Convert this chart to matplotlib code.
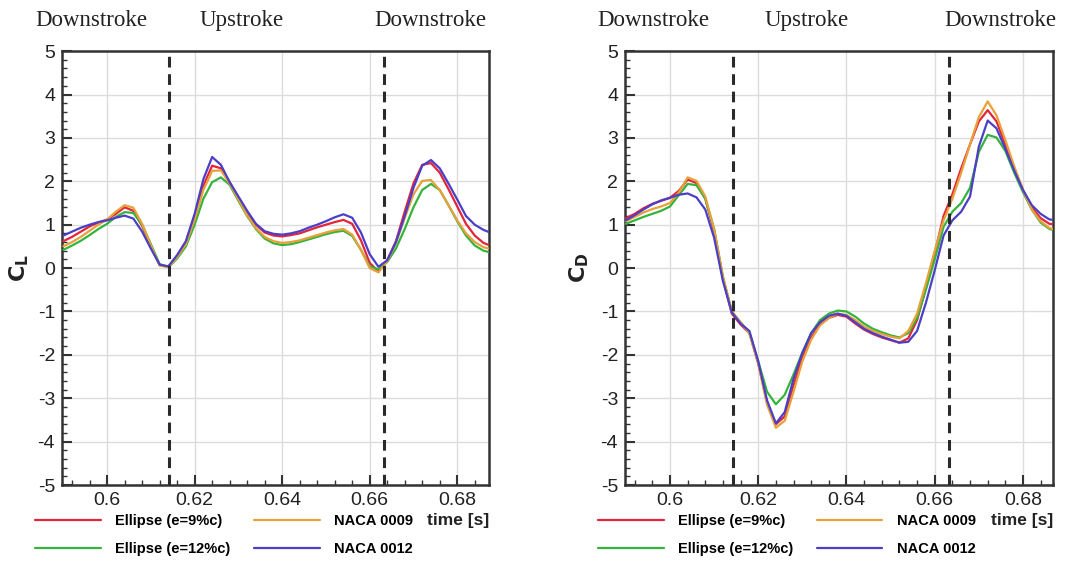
import numpy as np
import matplotlib
matplotlib.use("Agg")
import matplotlib.pyplot as plt
from matplotlib.ticker import MultipleLocator

plt.rcParams['font.family'] = ['Liberation Sans', 'DejaVu Sans']
plt.rcParams['axes.unicode_minus'] = False

# sample times [s]
t = np.round(np.arange(0.590, 0.6881, 0.002), 3)

# lift coefficient
cl_ell9 = [0.62, 0.72, 0.84, 0.96, 1.05, 1.12, 1.25, 1.40, 1.32, 0.97,
           0.50, 0.07, 0.03, 0.28, 0.60, 1.20, 1.90, 2.36, 2.30, 1.98,
           1.62, 1.28, 1.00, 0.82, 0.75, 0.73, 0.76, 0.80, 0.87, 0.94,
           1.00, 1.06, 1.11, 1.02, 0.64, 0.12, -0.08, 0.18, 0.62, 1.30,
           1.95, 2.38, 2.42, 2.20, 1.82, 1.42, 1.02, 0.75, 0.58, 0.50]
cl_ell12 = [0.42, 0.52, 0.63, 0.76, 0.90, 1.02, 1.18, 1.29, 1.27, 1.00,
            0.55, 0.09, 0.02, 0.22, 0.50, 1.00, 1.60, 1.98, 2.09, 1.92,
            1.55, 1.20, 0.90, 0.68, 0.57, 0.53, 0.55, 0.60, 0.66, 0.72,
            0.78, 0.83, 0.86, 0.74, 0.42, 0.04, -0.03, 0.14, 0.45, 0.90,
            1.40, 1.80, 1.94, 1.80, 1.45, 1.08, 0.75, 0.52, 0.40, 0.35]
cl_n0009 = [0.50, 0.60, 0.72, 0.86, 1.00, 1.12, 1.30, 1.45, 1.39, 1.02,
            0.52, 0.06, 0.02, 0.25, 0.55, 1.12, 1.80, 2.24, 2.25, 1.95,
            1.58, 1.22, 0.92, 0.72, 0.62, 0.58, 0.60, 0.64, 0.70, 0.76,
            0.82, 0.87, 0.90, 0.77, 0.42, 0.00, -0.10, 0.16, 0.58, 1.15,
            1.70, 2.01, 2.03, 1.80, 1.45, 1.10, 0.80, 0.60, 0.48, 0.43]
cl_n0012 = [0.75, 0.84, 0.93, 1.00, 1.06, 1.10, 1.16, 1.21, 1.14, 0.84,
            0.45, 0.08, 0.04, 0.30, 0.62, 1.25, 2.05, 2.56, 2.38, 1.98,
            1.65, 1.32, 1.02, 0.85, 0.79, 0.77, 0.80, 0.85, 0.93, 1.00,
            1.08, 1.17, 1.24, 1.16, 0.82, 0.32, 0.03, 0.18, 0.60, 1.20,
            1.85, 2.36, 2.49, 2.30, 1.95, 1.58, 1.20, 1.00, 0.88, 0.80]

# drag coefficient
cd_ell9 = [1.15, 1.25, 1.38, 1.48, 1.55, 1.62, 1.78, 2.04, 1.96, 1.60,
           0.85, -0.25, -1.05, -1.30, -1.50, -2.20, -3.10, -3.60, -3.42, -2.70,
           -2.05, -1.60, -1.30, -1.15, -1.08, -1.12, -1.28, -1.42, -1.52, -1.60,
           -1.66, -1.72, -1.62, -1.20, -0.45, 0.35, 1.20, 1.70, 2.30, 2.85,
           3.38, 3.64, 3.38, 2.85, 2.30, 1.80, 1.40, 1.15, 1.02, 1.00]
cd_ell12 = [1.02, 1.10, 1.18, 1.25, 1.32, 1.42, 1.68, 1.94, 1.91, 1.60,
            0.90, -0.20, -1.00, -1.25, -1.50, -2.15, -2.85, -3.14, -2.92, -2.45,
            -1.95, -1.50, -1.20, -1.05, -0.98, -1.00, -1.12, -1.28, -1.40, -1.48,
            -1.55, -1.60, -1.50, -1.15, -0.50, 0.20, 0.95, 1.30, 1.50, 1.85,
            2.68, 3.07, 3.01, 2.70, 2.20, 1.75, 1.35, 1.05, 0.90, 0.85]
cd_n0009 = [1.08, 1.18, 1.28, 1.36, 1.42, 1.50, 1.74, 2.09, 2.01, 1.65,
            0.90, -0.20, -1.00, -1.25, -1.50, -2.20, -3.15, -3.68, -3.52, -2.85,
            -2.15, -1.65, -1.32, -1.15, -1.05, -1.08, -1.20, -1.35, -1.45, -1.52,
            -1.58, -1.62, -1.45, -1.05, -0.35, 0.40, 1.10, 1.60, 2.20, 2.85,
            3.48, 3.84, 3.52, 2.95, 2.35, 1.80, 1.35, 1.08, 0.92, 0.88]
cd_n0012 = [1.10, 1.22, 1.35, 1.47, 1.56, 1.62, 1.69, 1.72, 1.63, 1.35,
            0.70, -0.30, -1.02, -1.28, -1.45, -2.15, -3.05, -3.58, -3.32, -2.55,
            -1.95, -1.50, -1.25, -1.10, -1.05, -1.10, -1.25, -1.40, -1.50, -1.58,
            -1.65, -1.72, -1.70, -1.45, -0.80, -0.05, 0.75, 1.10, 1.30, 1.65,
            2.80, 3.40, 3.22, 2.75, 2.25, 1.80, 1.45, 1.25, 1.12, 1.10]

labels = ['Ellipse (e=9%c)', 'Ellipse (e=12%c)', 'NACA 0009', 'NACA 0012']
colors = ['#e3243b', '#35b43c', '#e8a13a', '#4b3fc6']

# stroke reversal times
t_rev = [0.6142, 0.6633]
strokes = ['Downstroke', 'Upstroke', 'Downstroke']

fig = plt.figure(figsize=(10.77, 5.62), dpi=100)
ax1 = fig.add_axes([0.0576, 0.137, 0.3966, 0.772])
ax2 = fig.add_axes([0.5803, 0.137, 0.3974, 0.772])

panels = [(ax1, [cl_ell9, cl_ell12, cl_n0009, cl_n0012], r'$\mathbf{C_L}$', (0.5897, 0.6873), -0.072),
          (ax2, [cd_ell9, cd_ell12, cd_n0009, cd_n0012], r'$\mathbf{C_D}$', (0.5898, 0.6868), -0.08)]

for ax, series, ylab, xl, lx in panels:
    for y, c, lab in zip(series, colors, labels):
        ax.plot(t, y, color=c, lw=1.6, label=lab, zorder=3,
                solid_joinstyle='round', solid_capstyle='round')
    for tr in t_rev:
        ax.axvline(tr, color='#2a2a2a', lw=2.2, ls=(0, (3.5, 2.2)), zorder=4)
    ax.set_xlim(*xl)
    ax.set_ylim(-5, 5)
    ax.xaxis.set_major_locator(MultipleLocator(0.02))
    ax.xaxis.set_minor_locator(MultipleLocator(0.004))
    ax.yaxis.set_major_locator(MultipleLocator(1))
    ax.yaxis.set_minor_locator(MultipleLocator(0.2))
    ax.xaxis.set_major_formatter(plt.FuncFormatter(lambda v, p: ('%.2f' % v).rstrip('0')))
    ax.grid(True, which='major', color='#dcdcdc', lw=1.0, zorder=0)
    ax.tick_params(which='both', direction='in', top=False, right=False,
                   colors='#333333', labelcolor='#222222')
    ax.tick_params(which='major', length=7, width=1.5, labelsize=14, pad=5)
    ax.tick_params(which='minor', length=3.5, width=1.0)
    for s in ax.spines.values():
        s.set_color('#333333')
        s.set_linewidth(1.8)
    ax.set_ylabel(ylab, fontsize=16, color='#222222')
    ax.yaxis.set_label_coords(lx, 0.5)
    ax.text(1.0, -0.082, 'time [s]', transform=ax.transAxes, ha='right', va='center',
            fontsize=12.5, fontweight='bold', color='#222222')
    ax.legend(ncol=2, loc='upper left', frameon=False,
              bbox_to_anchor=(ax.get_position().x0 - 0.025, 0.085), bbox_transform=fig.transFigure,
              prop={'weight': 'bold', 'size': 10.5}, handlelength=4.5, handletextpad=1.0,
              columnspacing=1.6, labelspacing=0.95, borderpad=0, borderaxespad=0)

# stroke phase headers
head_x = [[0.0325, 0.1857, 0.348], [0.555, 0.710, 0.877]]
for xs in head_x:
    for x, s in zip(xs, strokes):
        fig.text(x, 0.964, s, family='Liberation Serif', fontsize=16.5, color='#222222',
                 ha='left', va='center')

fig.savefig('out.png', dpi=100)
